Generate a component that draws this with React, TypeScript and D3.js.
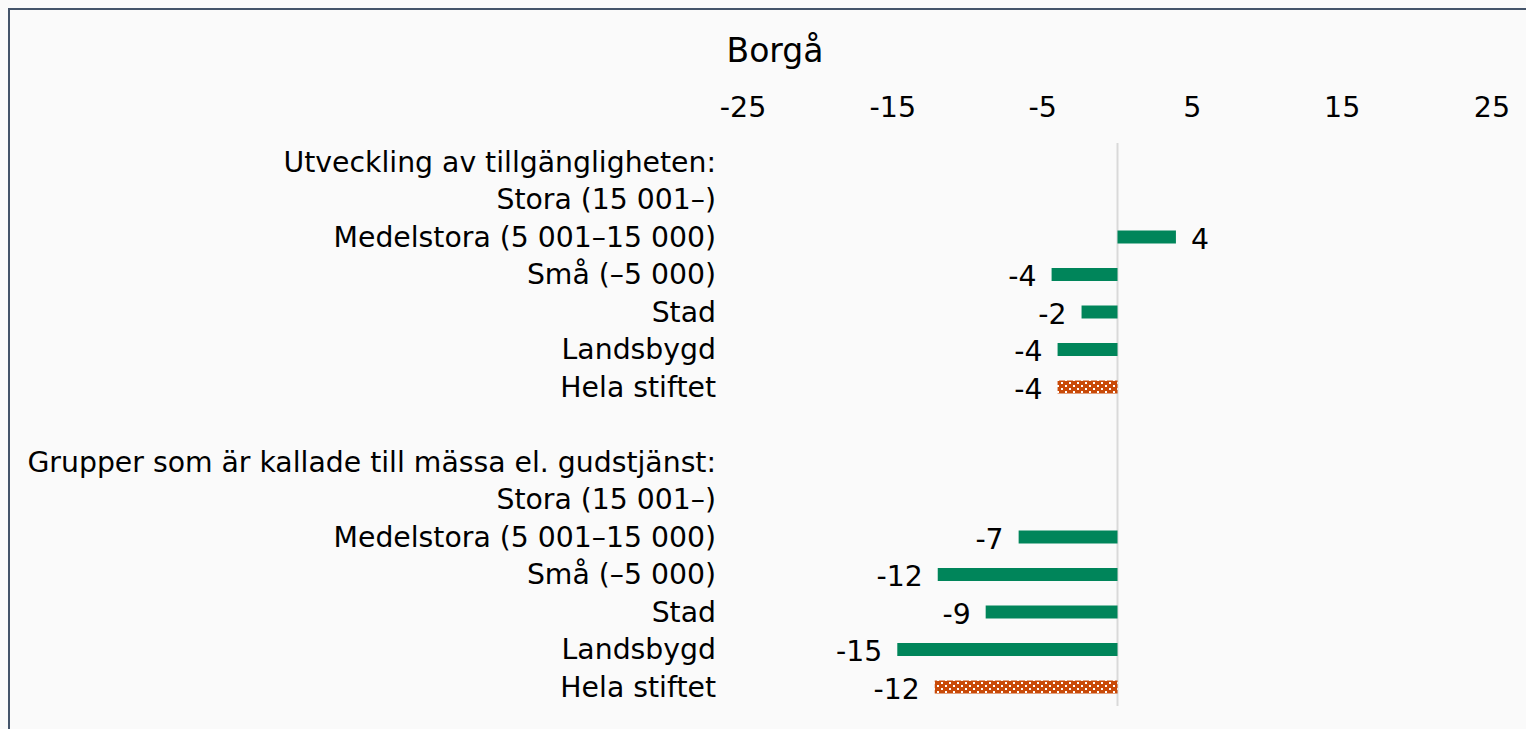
import React, { useRef, useEffect } from "react";
import * as d3 from "d3";

/* ---- data ---- */
const TITLE = "Borgå";
const groupHeaders = [
  "Utveckling av tillgängligheten:",
  "Grupper som är kallade till mässa el. gudstjänst:",
];
const subCategories = [
  "Stora (15 001–)",
  "Medelstora (5 001–15 000)",
  "Små (–5 000)",
  "Stad",
  "Landsbygd",
  "Hela stiftet",
];
const accessValues: (number | null)[] = [null, 3.9, -4.4, -2.4, -4.0, -4.0];
const servicesValues: (number | null)[] = [null, -6.6, -12.0, -8.8, -14.7, -12.2];
const tickValues = [-25, -15, -5, 5, 15, 25];

type Row = { key: string; label: string; value: number | null; total: boolean; header: boolean };

export default function App() {
  const svgRef = useRef<SVGSVGElement>(null);

  useEffect(() => {
    const W = 1526;
    const H = 729;
    const FONT = "'DejaVu Sans', Verdana, sans-serif";

    /* build rows: header, 6 subcategories, blank, header, 6 subcategories */
    const rows: Row[] = [];
    [accessValues, servicesValues].forEach((vals, gi) => {
      rows.push({ key: `h${gi}`, label: groupHeaders[gi], value: null, total: false, header: true });
      subCategories.forEach((c, i) =>
        rows.push({
          key: `${gi}-${i}`,
          label: c,
          value: vals[i],
          total: i === subCategories.length - 1,
          header: false,
        })
      );
      if (gi === 0) rows.push({ key: "gap", label: "", value: null, total: false, header: false });
    });

    /* ---- scales ---- */
    const x = d3.scaleLinear().domain([-25, 25]).range([743, 1492]);
    const y = d3
      .scaleBand<string>()
      .domain(rows.map((r) => r.key))
      .range([143.25, 143.25 + rows.length * 37.5])
      .padding(0);
    const cy = (k: string) => (y(k) as number) + y.bandwidth() / 2;

    const svg = d3.select(svgRef.current).attr("viewBox", `0 0 ${W} ${H}`);
    svg.selectAll("*").remove();

    /* pattern for totals */
    const defs = svg.append("defs");
    const pat = defs
      .append("pattern")
      .attr("id", "dots")
      .attr("patternUnits", "userSpaceOnUse")
      .attr("width", 8)
      .attr("height", 6);
    pat.append("rect").attr("width", 8).attr("height", 6).attr("fill", "#c94a08");
    pat.append("rect").attr("x", 1).attr("y", 1).attr("width", 2).attr("height", 2).attr("fill", "#fff");
    pat.append("rect").attr("x", 5).attr("y", 4).attr("width", 2).attr("height", 2).attr("fill", "#fff");

    /* background + frame */
    svg.append("rect").attr("width", W).attr("height", H).attr("fill", "#fafafa");
    svg
      .append("rect")
      .attr("x", 9)
      .attr("y", 9)
      .attr("width", W + 20)
      .attr("height", H + 20)
      .attr("fill", "#fafafa")
      .attr("stroke", "#44546a")
      .attr("stroke-width", 2);

    /* title */
    svg
      .append("text")
      .attr("x", 775)
      .attr("y", 50)
      .attr("text-anchor", "middle")
      .attr("dominant-baseline", "central")
      .style("font-family", FONT)
      .style("font-size", "33px")
      .attr("fill", "#000")
      .text(TITLE);

    /* top tick labels */
    svg
      .append("g")
      .selectAll("text")
      .data(tickValues)
      .enter()
      .append("text")
      .attr("x", (d) => x(d))
      .attr("y", 107)
      .attr("text-anchor", "middle")
      .attr("dominant-baseline", "central")
      .style("font-family", FONT)
      .style("font-size", "28.5px")
      .attr("fill", "#000")
      .text((d) => d);

    /* zero line */
    svg
      .append("line")
      .attr("x1", x(0))
      .attr("x2", x(0))
      .attr("y1", 143)
      .attr("y2", 706)
      .attr("stroke", "#d9d9d9")
      .attr("stroke-width", 2);

    /* category labels */
    svg
      .append("g")
      .selectAll("text")
      .data(rows.filter((r) => r.label))
      .enter()
      .append("text")
      .attr("x", 716)
      .attr("y", (d) => cy(d.key))
      .attr("text-anchor", "end")
      .attr("dominant-baseline", "central")
      .style("font-family", FONT)
      .style("font-size", "28.3px")
      .attr("fill", "#000")
      .text((d) => d.label);

    /* bars */
    const barRows = rows.filter((r) => r.value !== null);
    const BH = 13;
    svg
      .append("g")
      .selectAll("rect")
      .data(barRows)
      .enter()
      .append("rect")
      .attr("x", (d) => Math.min(x(0), x(d.value as number)))
      .attr("y", (d) => cy(d.key) - BH / 2)
      .attr("width", (d) => Math.abs(x(d.value as number) - x(0)))
      .attr("height", BH)
      .attr("fill", (d) => (d.total ? "url(#dots)" : "#00855a"));

    /* value labels */
    svg
      .append("g")
      .selectAll("text")
      .data(barRows)
      .enter()
      .append("text")
      .attr("x", (d) => ((d.value as number) < 0 ? x(d.value as number) - 15 : x(d.value as number) + 15))
      .attr("y", (d) => cy(d.key) + 2)
      .attr("text-anchor", (d) => ((d.value as number) < 0 ? "end" : "start"))
      .attr("dominant-baseline", "central")
      .style("font-family", FONT)
      .style("font-size", "28.3px")
      .attr("fill", "#000")
      .text((d) => Math.round(d.value as number));
  }, []);

  return (
    <svg
      ref={svgRef}
      width={1526}
      height={729}
      style={{ position: "fixed", left: 0, top: 0, display: "block" }}
    />
  );
}
